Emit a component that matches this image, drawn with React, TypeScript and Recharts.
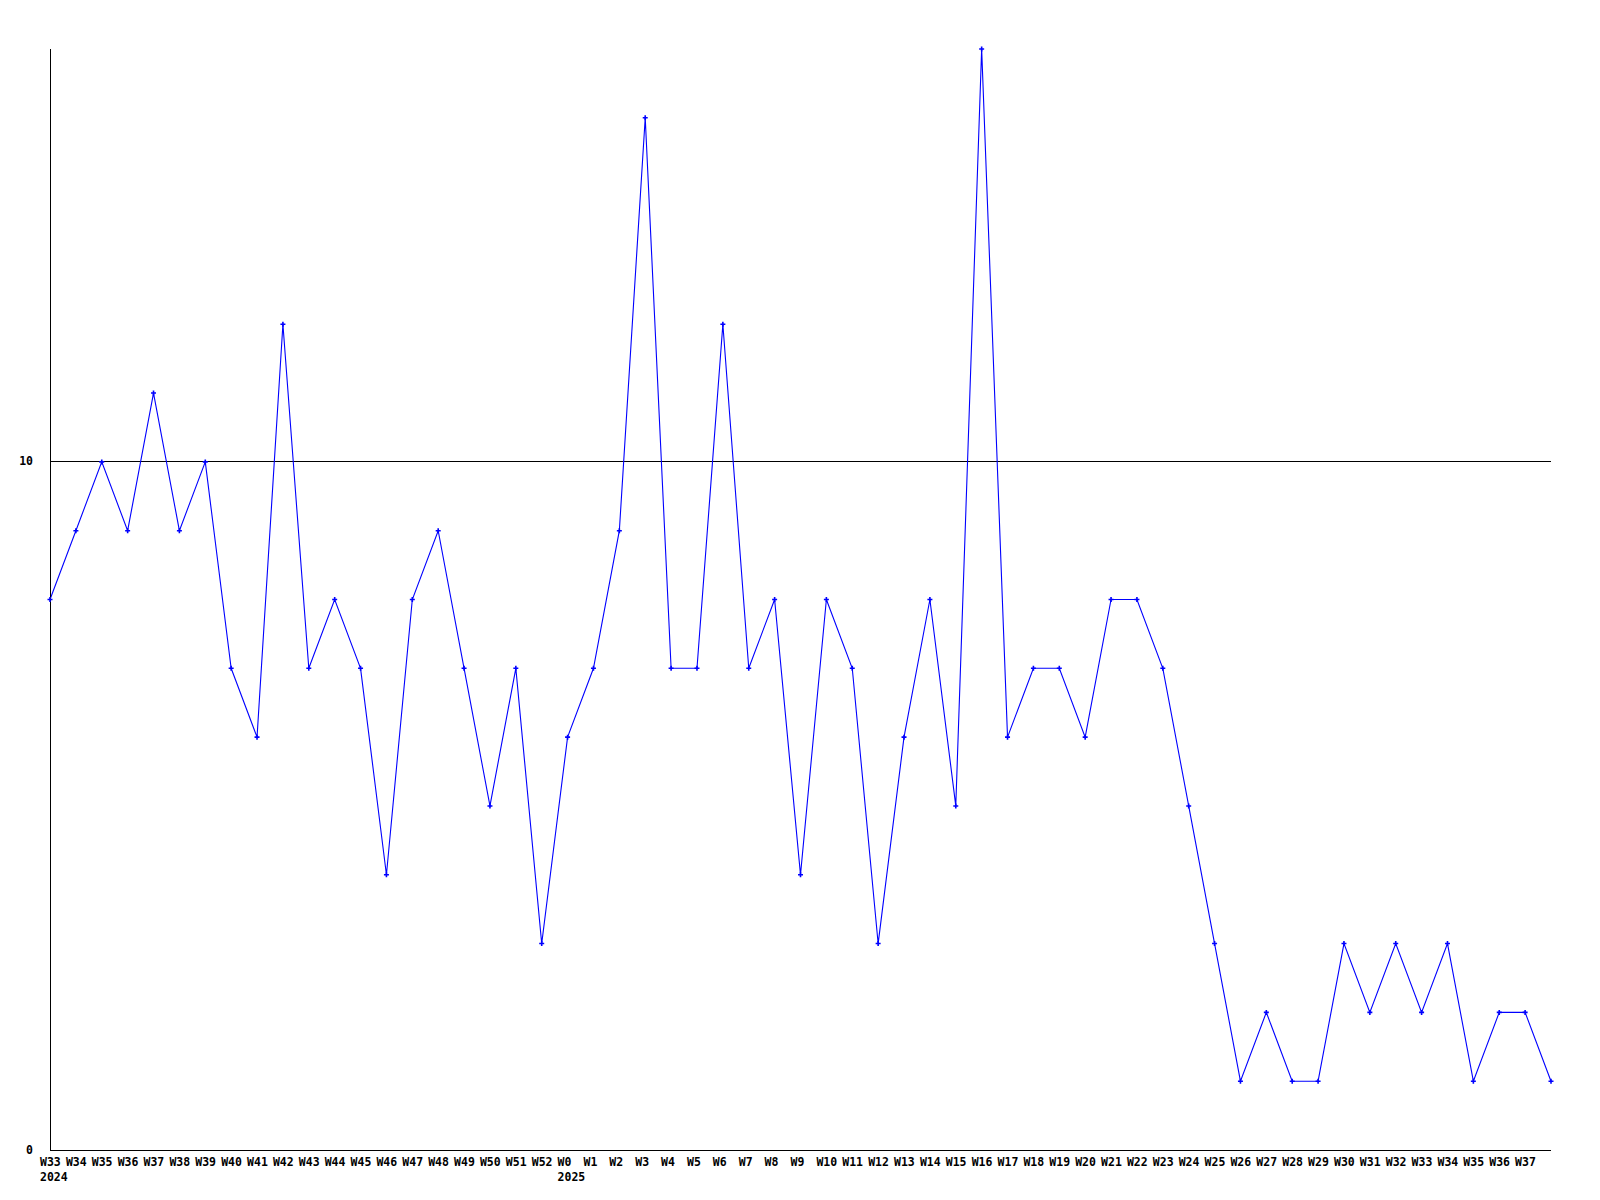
import React from "react";
import { LineChart, Line, XAxis, YAxis, ReferenceLine } from "recharts";

const weeks = [
  "W33","W34","W35","W36","W37","W38","W39","W40","W41","W42","W43","W44","W45","W46","W47","W48","W49","W50","W51","W52",
  "W0","W1","W2","W3","W4","W5","W6","W7","W8","W9","W10","W11","W12","W13","W14","W15","W16","W17","W18","W19","W20",
  "W21","W22","W23","W24","W25","W26","W27","W28","W29","W30","W31","W32","W33","W34","W35","W36","W37","",
];

const years = [
  "2024","","","","","","","","","","","","","","","","","","","",
  "2025","","","","","","","","","","","","","","","","","","","",
  "","","","","","","","","","","","","","","","","","","",
];

const values = [
  8, 9, 10, 9, 11, 9, 10, 7, 6, 12, 7, 8, 7, 4, 8, 9, 7, 5, 7, 3,
  6, 7, 9, 15, 7, 7, 12, 7, 8, 4, 8, 7, 3, 6, 8, 5, 16, 6, 7, 7, 6,
  8, 8, 7, 5, 3, 1, 2, 1, 1, 3, 2, 3, 2, 3, 1, 2, 2, 1,
];

const yTicks = [0, 10];

const data = values.map((v, i) => ({ idx: i, week: weeks[i], year: years[i], value: v }));

const FONT = "'DejaVu Sans Mono', monospace";

const XTick = (props: any) => {
  const { x, y, payload } = props;
  const i = payload.value as number;
  return (
    <g>
      <text x={x - 10} y={y + 12} textAnchor="start" dominantBaseline="middle" fontFamily={FONT} fontWeight="bold" fontSize={11.5} fill="#000">
        {weeks[i]}
      </text>
      {years[i] ? (
        <text x={x - 10} y={y + 27} textAnchor="start" dominantBaseline="middle" fontFamily={FONT} fontWeight="bold" fontSize={11.5} fill="#000">
          {years[i]}
        </text>
      ) : null}
    </g>
  );
};

const YTick = (props: any) => {
  const { x, y, payload } = props;
  return (
    <text x={x - 17} y={y} textAnchor="end" dominantBaseline="middle" fontFamily={FONT} fontWeight="bold" fontSize={11.5} fill="#000">
      {payload.value}
    </text>
  );
};

const Dot = (props: any) => {
  const { cx, cy, index } = props;
  if (cx == null || cy == null) return null;
  return (
    <path
      key={index}
      d={`M${cx - 2.5},${cy} L${cx + 2.5},${cy} M${cx},${cy - 2.5} L${cx},${cy + 2.5}`}
      stroke="#0000ff"
      strokeWidth={1.6}
      fill="none"
    />
  );
};

export default function App() {
  return (
    <div style={{ position: "absolute", left: 0, top: 0, width: 1600, height: 1200, background: "#fff" }}>
      <LineChart width={1600} height={1200} data={data} margin={{ top: 49, right: 49, left: 0, bottom: 0 }}>
        <XAxis
          dataKey="idx"
          type="number"
          domain={[0, values.length - 1]}
          ticks={data.slice(0, weeks.length - 1).map((d) => d.idx)}
          interval={0}
          height={50}
          axisLine={{ stroke: "#000", strokeWidth: 1, shapeRendering: "crispEdges" }}
          tickLine={false}
          tickSize={0}
          tickMargin={0}
          tick={<XTick />}
          allowDecimals={false}
        />
        <YAxis
          type="number"
          domain={[0, 16]}
          ticks={yTicks}
          width={50}
          axisLine={{ stroke: "#000", strokeWidth: 1, shapeRendering: "crispEdges" }}
          tickLine={false}
          tickSize={0}
          tickMargin={0}
          tick={<YTick />}
        />
        <ReferenceLine y={10} stroke="#000" strokeWidth={1} shapeRendering="crispEdges" />
        <Line
          type="linear"
          dataKey="value"
          stroke="#0000ff"
          strokeWidth={1.1}
          dot={<Dot />}
          activeDot={false}
          isAnimationActive={false}
        />
      </LineChart>
    </div>
  );
}
